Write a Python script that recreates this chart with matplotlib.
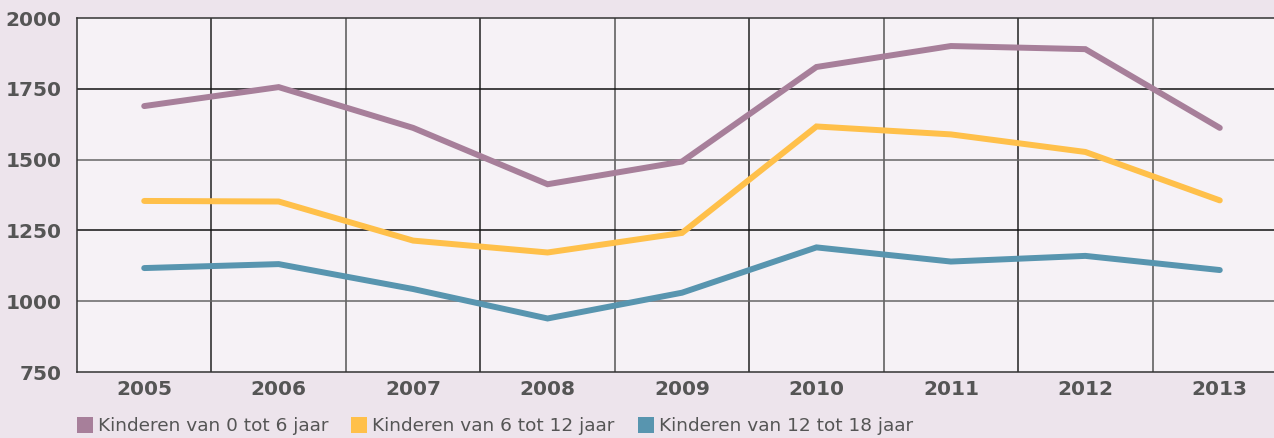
import matplotlib
matplotlib.use("Agg")
from matplotlib import pyplot as plt
from matplotlib.patches import Patch

# jaren op de x-as
years = ["2005", "2006", "2007", "2008", "2009", "2010", "2011", "2012", "2013"]

kids_0_6 = [1689, 1756, 1612, 1413, 1493, 1827, 1901, 1890, 1612]
kids_6_12 = [1354, 1352, 1214, 1172, 1241, 1617, 1589, 1527, 1356]
kids_12_18 = [1117, 1131, 1043, 939, 1030, 1190, 1140, 1160, 1110]

labels = ["Kinderen van 0 tot 6 jaar", "Kinderen van 6 tot 12 jaar", "Kinderen van 12 tot 18 jaar"]
colors = ["#A77F9A", "#FFC04A", "#5895AF"]

yticks = [750, 1000, 1250, 1500, 1750, 2000]

fig = plt.figure(figsize=(12.74, 4.38), dpi=100)
fig.patch.set_facecolor("#EDE4EC")
ax = fig.add_axes([77 / 1274, 66 / 438, 1210 / 1274, 354 / 438])
ax.set_facecolor("#F6F2F6")

x = list(range(len(years)))
for series, col in zip([kids_0_6, kids_6_12, kids_12_18], colors):
    ax.plot(x, series, color=col, lw=4.3, solid_capstyle="round", solid_joinstyle="miter", zorder=3)

ax.set_xlim(-0.5, len(years) - 0.5)
ax.set_ylim(750, 2000)
ax.set_yticks(yticks)
ax.set_yticklabels([str(v) for v in yticks])
ax.set_xticks(x)
ax.set_xticklabels(years)

# verticale lijnen tussen de jaren, grijs en zwart om en om
for i in range(len(years) - 1):
    ax.axvline(i + 0.5, color="#222222" if i % 2 == 0 else "#555555", lw=1.1, zorder=1)
for j, v in enumerate(yticks[1:-1]):
    ax.axhline(v, color="#666666" if j % 2 == 0 else "#111111", lw=1.1, zorder=1)

for s in ["left", "bottom", "top", "right"]:
    ax.spines[s].set_color("#333333")
    ax.spines[s].set_linewidth(1.1)

ax.tick_params(axis="both", length=0, colors="#555555", labelsize=14.5)
ax.tick_params(axis="x", pad=6)
ax.tick_params(axis="y", pad=11)
for t in ax.get_xticklabels() + ax.get_yticklabels():
    t.set_fontweight("bold")

handles = [Patch(facecolor=c, edgecolor="none") for c in colors]
leg = fig.legend(handles, labels, loc="center left", bbox_to_anchor=(77 / 1274, 12 / 438),
                 ncol=3, frameon=False, borderpad=0, borderaxespad=0,
                 handlelength=0.85, handleheight=1.0,
                 handletextpad=0.28, columnspacing=1.25,
                 prop={"family": "DejaVu Sans", "size": 13.3})
for t in leg.get_texts():
    t.set_color("#555555")

fig.savefig("out.png", dpi=100, facecolor=fig.get_facecolor())
